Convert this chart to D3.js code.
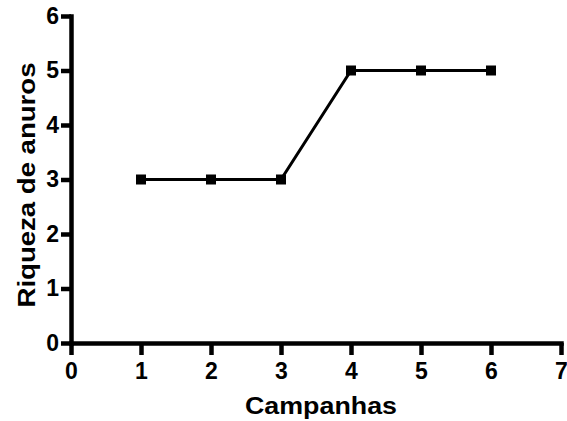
<!DOCTYPE html>
<html>
<head>
<meta charset="utf-8">
<script src="https://cdn.jsdelivr.net/npm/d3@7"></script>
<style>
  html, body { margin: 0; padding: 0; background: #fff; }
  svg { display: block; }
  text { font-family: "Liberation Sans", Arial, sans-serif; font-weight: bold; fill: #000; }
</style>
</head>
<body>
<svg id="chart" width="567" height="421"></svg>
<script>
// Data
const campanhas = [1, 2, 3, 4, 5, 6];
const riqueza = [3, 3, 3, 5, 5, 5];
const xTicks = [0, 1, 2, 3, 4, 5, 6, 7];
const yTicks = [0, 1, 2, 3, 4, 5, 6];
const xLabel = "Campanhas";
const yLabel = "Riqueza de anuros";

const svg = d3.select("#chart");
const margin = { left: 71, top: 16, right: 6, bottom: 78 };
const W = 567, H = 421;
const x = d3.scaleLinear().domain([0, 7]).range([margin.left, 561]);
const y = d3.scaleLinear().domain([0, 6]).range([343, margin.top]);

const gx = svg.append("g").attr("transform", `translate(0,${y(0)})`)
  .call(d3.axisBottom(x).tickValues(xTicks).tickFormat(d3.format("d")).tickSize(12).tickSizeOuter(0).tickPadding(8));
const gy = svg.append("g").attr("transform", `translate(${x(0)},0)`)
  .call(d3.axisLeft(y).tickValues(yTicks).tickFormat(d3.format("d")).tickSize(10).tickSizeOuter(0).tickPadding(2));

[gx, gy].forEach(g => {
  g.select(".domain").attr("stroke", "#000").attr("stroke-width", 4.5).attr("stroke-linecap", "square");
  g.selectAll(".tick line").attr("stroke", "#000").attr("stroke-width", 4.5);
  g.selectAll(".tick text").attr("font-size", 23).attr("font-family", "Liberation Sans, Arial, sans-serif").attr("font-weight", "bold").attr("fill", "#000");
});

const line = d3.line().x((d, i) => x(campanhas[i])).y(d => y(d));
svg.append("path").datum(riqueza)
  .attr("d", line).attr("fill", "none").attr("stroke", "#000").attr("stroke-width", 3);

svg.append("g").selectAll("rect").data(riqueza).join("rect")
  .attr("x", (d, i) => x(campanhas[i]) - 5)
  .attr("y", d => y(d) - 5)
  .attr("width", 10).attr("height", 10).attr("fill", "#000");

svg.append("text").attr("x", 321).attr("y", 414).attr("text-anchor", "middle")
  .attr("font-size", 24).attr("textLength", 152).attr("lengthAdjust", "spacingAndGlyphs").text(xLabel);

svg.append("text").attr("transform", `translate(35,185) rotate(-90)`).attr("text-anchor", "middle")
  .attr("font-size", 24).attr("textLength", 245).attr("lengthAdjust", "spacingAndGlyphs").text(yLabel);
</script>
</body>
</html>
